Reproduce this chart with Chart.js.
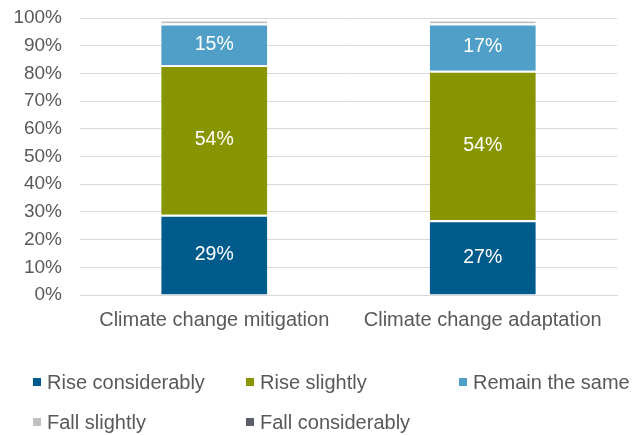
<!DOCTYPE html>
<html>
<head>
<meta charset="utf-8">
<script src="https://cdn.jsdelivr.net/npm/chart.js@4"></script>
<style>
  html, body { margin: 0; padding: 0; background: #fff; }
  #wrap { position: relative; width: 637px; height: 435px; }
  #legend { position: absolute; left: 0; top: 0; width: 637px; height: 435px; pointer-events: none;
            font-family: "Liberation Sans", Arial, sans-serif; font-size: 20px; color: #595959; }
  .lg-item { position: absolute; display: flex; align-items: center; white-space: nowrap; }
  .lg-box { width: 8px; height: 8px; margin-right: 6px; }
</style>
</head>
<body>
<div id="wrap">
  <canvas id="chart" width="637" height="435"></canvas>
  <div id="legend"></div>
</div>
<script>
// Categories and shares (percent) per answer
const categories = ['Climate change mitigation', 'Climate change adaptation'];
const seriesNames = ['Rise considerably', 'Rise slightly', 'Remain the same', 'Fall slightly', 'Fall considerably'];
const riseConsiderably = [29, 27];
const riseSlightly = [54, 54];
const remainSame = [15, 17];
const fallSlightly = [1.5, 1.5];
const fallConsiderably = [0, 0];
const yTicks = [0, 10, 20, 30, 40, 50, 60, 70, 80, 90, 100];

const colors = ['#005B8D', '#879600', '#509FC8', '#C0C0C0', '#5A6067'];
const labelled = [true, true, true, false, false];
const seriesValues = [riseConsiderably, riseSlightly, remainSame, fallSlightly, fallConsiderably];

const FONT = '"Liberation Sans", Arial, sans-serif';

// white percentage labels in the middle of each big segment
const segmentLabels = {
    id: 'segmentLabels',
    afterDatasetsDraw(chart) {
        const ctx = chart.ctx;
        ctx.save();
        ctx.font = '19.5px ' + FONT;
        ctx.fillStyle = '#ffffff';
        ctx.textAlign = 'center';
        ctx.textBaseline = 'middle';
        chart.data.datasets.forEach((ds, i) => {
            if (!labelled[i]) return;
            chart.getDatasetMeta(i).data.forEach((bar, j) => {
                const mid = (bar.y + bar.base) / 2;
                ctx.fillText(Math.round(ds.data[j]) + '%', bar.x, mid);
            });
        });
        ctx.restore();
    }
};

const chart = new Chart(document.getElementById('chart').getContext('2d'), {
    type: 'bar',
    data: {
        labels: categories,
        datasets: seriesNames.map((name, i) => ({
            label: name,
            data: seriesValues[i],
            backgroundColor: colors[i],
            borderColor: '#ffffff',
            borderWidth: { top: 2, bottom: 0, left: 0, right: 0 },
            borderSkipped: false,
            categoryPercentage: 1,
            barPercentage: 0.395
        }))
    },
    options: {
        responsive: false,
        animation: false,
        layout: { padding: { top: 18, right: 20, bottom: 100, left: 0 } },
        plugins: {
            legend: { display: false },
            tooltip: { enabled: false }
        },
        scales: {
            x: {
                stacked: true,
                grid: { display: false, drawTicks: false },
                border: { color: '#D9D9D9', width: 1 },
                ticks: { color: '#595959', font: { family: FONT, size: 20 }, padding: 13 },
                afterFit(scale) { scale.height = 40; }
            },
            y: {
                stacked: true,
                min: 0,
                max: 100,
                afterBuildTicks(scale) { scale.ticks = yTicks.map(v => ({ value: v })); },
                // invisible tick marks keep the labels clear of the plot without extra top padding
                grid: { color: '#D9D9D9', drawTicks: true, tickLength: 18, tickColor: 'rgba(0,0,0,0)' },
                border: { display: false },
                ticks: {
                    color: '#595959',
                    font: { family: FONT, size: 19 },
                    padding: 0,
                    callback: v => v + '%'
                },
                afterFit(scale) { scale.width = 80; }
            }
        }
    },
    plugins: [segmentLabels]
});

// legend laid out in a 3-column grid under the chart
const legendPos = [[33, 382], [246, 382], [459, 382], [33, 422], [246, 422]];
const legendEl = document.getElementById('legend');
seriesNames.forEach((name, i) => {
    const item = document.createElement('div');
    item.className = 'lg-item';
    item.style.left = legendPos[i][0] + 'px';
    item.style.top = (legendPos[i][1] - 12) + 'px';
    item.style.height = '24px';
    item.innerHTML = `<span class="lg-box" style="background:${colors[i]}"></span><span>${name}</span>`;
    legendEl.appendChild(item);
});
</script>
</body>
</html>
